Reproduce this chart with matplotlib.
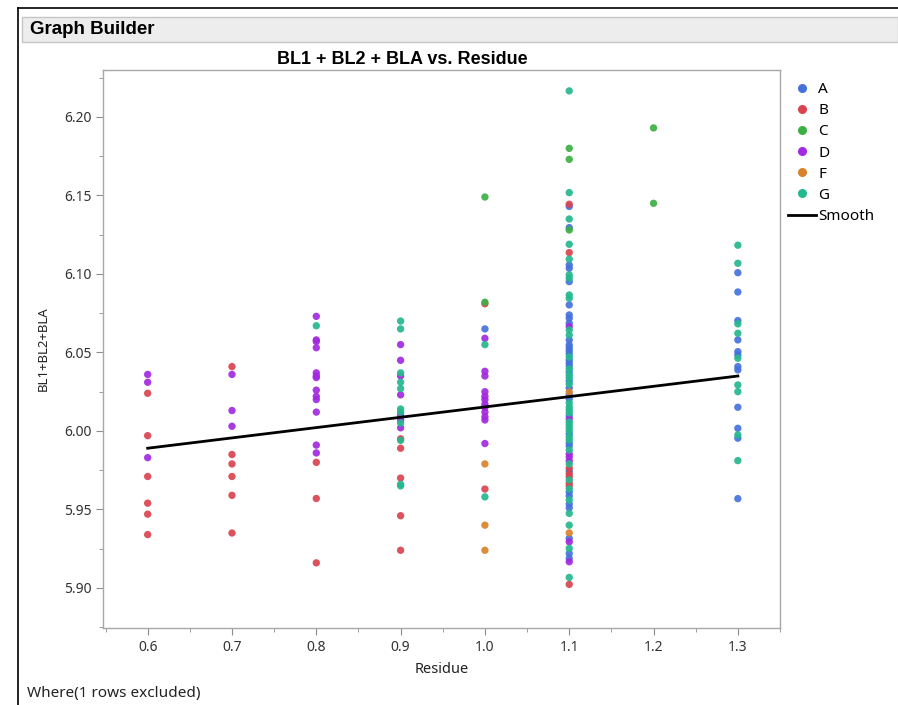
import matplotlib
matplotlib.use("Agg")
import matplotlib.pyplot as plt
from matplotlib.lines import Line2D
from matplotlib.patches import Rectangle
from matplotlib.ticker import MultipleLocator

plt.rcParams["font.family"] = ["Noto Sans", "DejaVu Sans"]
BOLD = ["Liberation Sans Narrow", "Liberation Sans", "DejaVu Sans"]

# ---- data ----
a_x = [1.0] + [1.1] * 34 + [1.3] * 12
a_y = [6.065,
       6.143, 6.1295, 6.1057, 6.1036, 6.0951, 6.0803, 6.0739, 6.0718, 6.0686, 6.0580,
       6.0548, 6.0529, 6.051, 6.049, 6.0452, 6.0433, 6.0414, 6.0376, 6.0318, 6.0274,
       6.0229, 6.0204, 6.0096, 5.9981, 5.9924, 5.9904, 5.9745, 5.9611, 5.9586, 5.9535,
       5.9510, 5.9316, 5.922, 5.9188,
       6.1008, 6.0885, 6.0703, 6.058, 6.0505, 6.0484, 6.041, 6.0389, 6.0151, 6.0017,
       5.9954, 5.9569]

b_x = [0.6] * 6 + [0.7] * 6 + [0.8] * 3 + [0.9] * 5 + [1.0] * 2 + [1.1] * 8
b_y = [6.024, 5.997, 5.971, 5.954, 5.947, 5.934,
       6.041, 5.985, 5.979, 5.971, 5.959, 5.935,
       5.980, 5.957, 5.916,
       5.995, 5.989, 5.970, 5.946, 5.924,
       6.081, 5.963,
       6.1444, 6.1136, 5.9764, 5.9726, 5.9707, 5.9669, 5.9650, 5.9023]

c_x = [1.0] * 2 + [1.1] * 3 + [1.2] * 2
c_y = [6.149, 6.082, 6.180, 6.173, 6.128, 6.193, 6.145]

d_x = [0.6] * 3 + [0.7] * 3 + [0.8] * 13 + [0.9] * 7 + [1.0] * 12 + [1.1] * 7
d_y = [6.036, 6.031, 5.983,
       6.036, 6.013, 6.003,
       6.073, 6.058, 6.057, 6.053, 6.037, 6.035, 6.034, 6.026, 6.022, 6.020, 6.012,
       5.991, 5.986,
       6.055, 6.045, 6.035, 6.023, 6.010, 6.007, 6.002,
       6.059, 6.038, 6.035, 6.025, 6.022, 6.020, 6.017, 6.015, 6.012, 6.009, 6.007,
       5.992,
       6.0665, 6.0076, 5.9854, 5.9834, 5.9809, 5.9294, 5.9167]

f_x = [1.0] * 3 + [1.1] * 2
f_y = [5.979, 5.940, 5.924, 6.0248, 5.9351]

g_x = [0.8] + [0.9] * 11 + [1.0] * 2 + [1.1] * 35 + [1.3] * 9
g_y = [6.067,
       6.070, 6.065, 6.037, 6.031, 6.027, 6.014, 6.012, 6.005, 5.994, 5.966, 5.965,
       6.055, 5.958,
       6.2166, 6.1518, 6.135, 6.1189, 6.1094, 6.0994, 6.0973, 6.0866, 6.0845, 6.0643,
       6.0611, 6.0471, 6.0395, 6.0357, 6.0338, 6.0299, 6.0178, 6.0153, 6.0134, 6.0115,
       6.0057, 6.0038, 6.0019, 6.0000, 5.9962, 5.9943, 5.9879, 5.9790, 5.9688, 5.9631,
       5.9561, 5.9475, 5.94, 5.9252, 5.9067,
       6.1183, 6.1068, 6.0682, 6.0622, 6.0463, 6.0293, 6.025, 5.9975, 5.9811]

smooth_x = [0.6, 1.3]
smooth_y = [5.989, 6.035]

groups = ["A", "B", "C", "D", "F", "G"]
colors = ["#4472DD", "#D9434F", "#3CB043", "#A22AE0", "#D9822B", "#25B88F"]
xs = [a_x, b_x, c_x, d_x, f_x, g_x]
ys = [a_y, b_y, c_y, d_y, f_y, g_y]

# ---- figure ----
fig = plt.figure(figsize=(8.98, 7.05), dpi=100)
W, H = 898, 705


def fx(px):
    return px / W


def fy(py):
    return 1 - py / H


# outer frame and header bar
fig.add_artist(Line2D([fx(18), fx(18)], [fy(8), 0], color="black", lw=1.2))
fig.add_artist(Line2D([fx(18), 1], [fy(8), fy(8)], color="black", lw=1.2))
fig.add_artist(Rectangle((fx(22), fy(42)), 1 - fx(22), fy(17) - fy(42),
                         facecolor="#EDEDED", edgecolor="#C6C6C6", lw=1.0))
fig.text(fx(30), fy(29.5), "Graph Builder", fontsize=13.5, weight="bold",
         family=BOLD, va="center", ha="left", color="black")

ax = fig.add_axes([fx(103), fy(628), fx(780) - fx(103), fy(70) - fy(628)])
for xv, yv, c in zip(xs, ys, colors):
    ax.scatter(xv, yv, s=28, color=c, edgecolors="none", alpha=0.92, zorder=2)
ax.plot(smooth_x, smooth_y, color="black", lw=2, zorder=3)

ax.set_xlim(0.547, 1.35)
ax.set_ylim(5.8745, 6.2299)
ax.xaxis.set_minor_locator(MultipleLocator(0.05))
ax.yaxis.set_minor_locator(MultipleLocator(0.025))
ax.set_xticks([0.6, 0.7, 0.8, 0.9, 1.0, 1.1, 1.2, 1.3])
ax.set_xticklabels(["0.6", "0.7", "0.8", "0.9", "1.0", "1.1", "1.2", "1.3"])
ax.set_yticks([5.90, 5.95, 6.00, 6.05, 6.10, 6.15, 6.20])
ax.set_yticklabels(["5.90", "5.95", "6.00", "6.05", "6.10", "6.15", "6.20"])
ax.tick_params(which="both", direction="out", color="#8C8C8C", labelsize=10,
               labelcolor="#333333")
ax.tick_params(which="major", length=5)
ax.tick_params(which="minor", length=3)
for sp in ax.spines.values():
    sp.set_color("#A8A8A8")
    sp.set_linewidth(1.0)

ax.set_xlabel("Residue", fontsize=10.5, color="#222222", labelpad=5)
ax.set_ylabel("BL1+BL2+BLA", fontsize=9.5, color="#222222", labelpad=10)
fig.text(fx(402), fy(60), "BL1 + BL2 + BLA vs. Residue", fontsize=13,
         weight="bold", family=BOLD, ha="center", va="center")

handles = [Line2D([], [], marker="o", ls="none", color=c, markersize=5.5)
           for c in colors]
handles.append(Line2D([], [], color="black", lw=2))
ax.legend(handles, groups + ["Smooth"], loc="upper left",
          bbox_to_anchor=(1.012, 0.978), frameon=False, fontsize=11,
          handlelength=1.85, handletextpad=0.12, labelspacing=0.40,
          borderaxespad=0, borderpad=0)

fig.text(fx(27), fy(694), "Where(1 rows excluded)", fontsize=11,
         ha="left", va="center", color="#222222")

fig.savefig("out.png", dpi=100)
